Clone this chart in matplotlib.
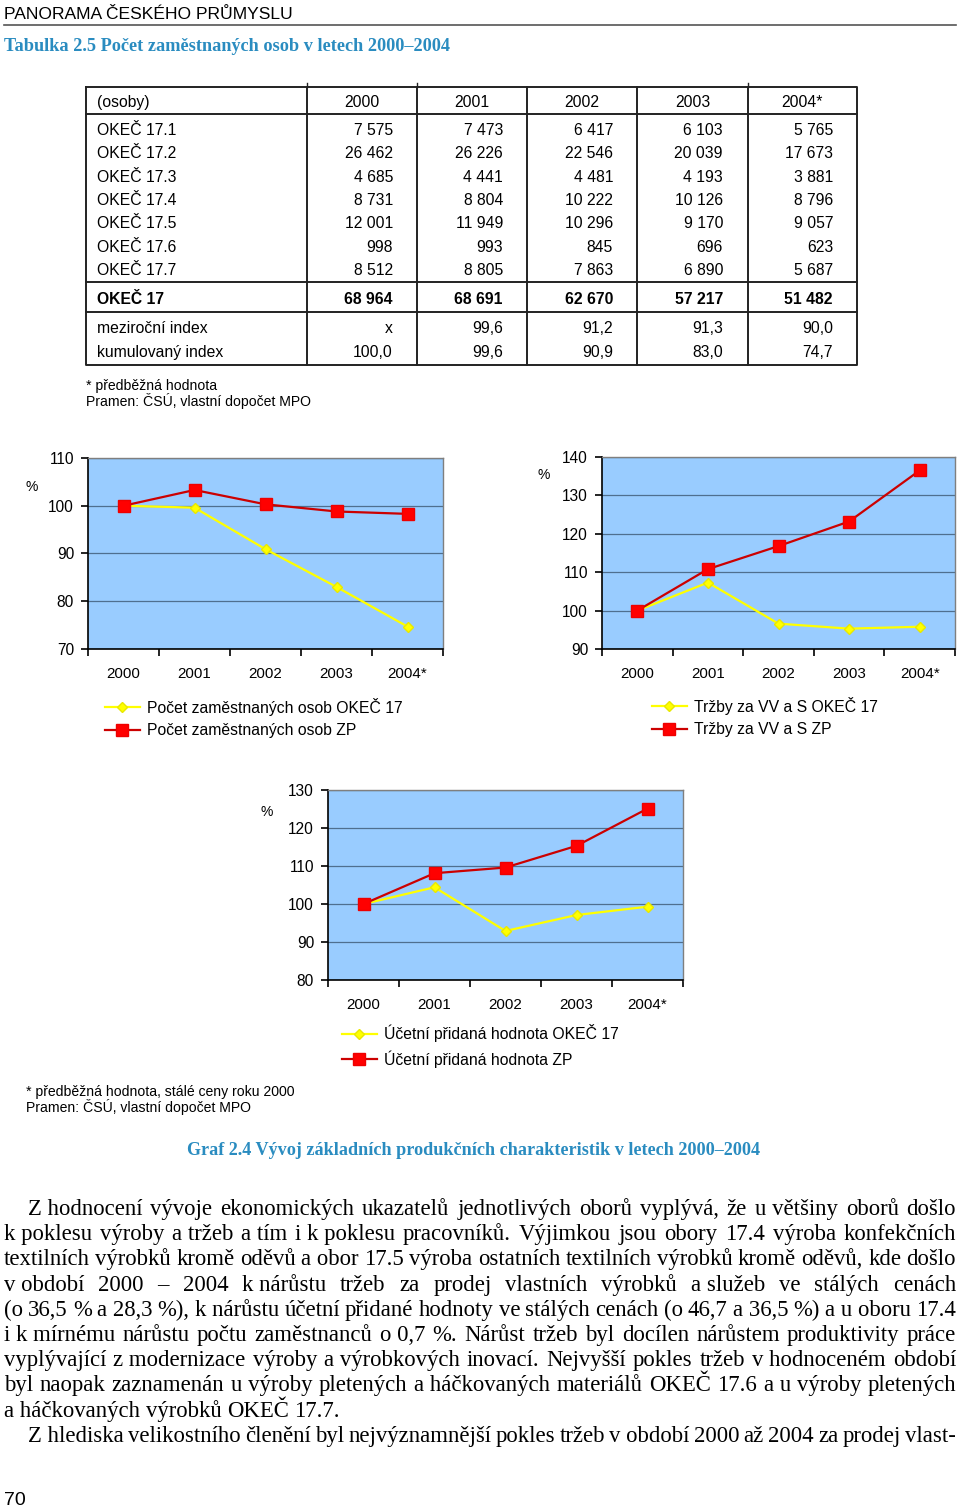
import numpy as np
import matplotlib
matplotlib.use('Agg')
import matplotlib.pyplot as plt

plt.rcParams['font.family'] = ['Liberation Sans', 'DejaVu Sans']
SERIF = ['Liberation Serif', 'DejaVu Serif']

# table data (osoby)
years = ['2000', '2001', '2002', '2003', '2004*']
row_labels = ['OKEČ 17.1', 'OKEČ 17.2', 'OKEČ 17.3', 'OKEČ 17.4',
              'OKEČ 17.5', 'OKEČ 17.6', 'OKEČ 17.7']
okec_171 = [7575, 7473, 6417, 6103, 5765]
okec_172 = [26462, 26226, 22546, 20039, 17673]
okec_173 = [4685, 4441, 4481, 4193, 3881]
okec_174 = [8731, 8804, 10222, 10126, 8796]
okec_175 = [12001, 11949, 10296, 9170, 9057]
okec_176 = [998, 993, 845, 696, 623]
okec_177 = [8512, 8805, 7863, 6890, 5687]
okec_17 = [68964, 68691, 62670, 57217, 51482]
yoy_index = [None, 99.6, 91.2, 91.3, 90.0]
cum_index = [100.0, 99.6, 90.9, 83.0, 74.7]

# chart data (%)
emp_okec = cum_index
emp_zp = [100, 103.3, 100.3, 98.8, 98.3]
sales_okec = [100, 107.3, 96.6, 95.3, 95.8]
sales_zp = [100, 110.8, 116.8, 123.2, 136.5]
gva_okec = [100, 104.4, 92.9, 97.1, 99.3]
gva_zp = [100, 108.1, 109.6, 115.3, 125.1]

W, H = 960, 1508
fig = plt.figure(figsize=(W / 100, H / 100), dpi=100)
fig.patch.set_facecolor('white')

bg = fig.add_axes([0, 0, 1, 1])
bg.set_xlim(0, W)
bg.set_ylim(H, 0)
bg.axis('off')


def px_rect(l, t, r, b):
    return [l / W, 1 - b / H, (r - l) / W, (b - t) / H]


def fmt_int(v):
    return f'{v:,}'.replace(',', ' ')


def fmt_dec(v):
    return 'x' if v is None else f'{v:.1f}'.replace('.', ',')


blue = '#2a8cc0'

# page header
bg.text(4, 19, 'PANORAMA ČESKÉHO PRŮMYSLU', fontsize=12.6, va='baseline')
bg.plot([4, 956], [25, 25], color='#555555', lw=1.2)
bg.text(4, 51, 'Tabulka 2.5 Počet zaměstnaných osob v letech 2000–2004',
        fontsize=13.15, family=SERIF, weight='bold', color=blue, va='baseline')

# table
tl, tr, tt, tb = 86, 857, 87, 365
col_sep = [307, 417, 527, 637, 748]
val_right = [393, 503, 613, 723, 833]
lw_t = 1.4
bg.plot([tl, tr, tr, tl, tl], [tt, tt, tb, tb, tt], color='#222222', lw=lw_t)
for xs in col_sep:
    bg.plot([xs, xs], [tt, tb], color='#222222', lw=lw_t)
for xs in [307, 417, 748]:
    bg.plot([xs, xs], [83, tt], color='#222222', lw=1.0)
for ys in [114, 282, 312]:
    bg.plot([tl, tr], [ys, ys], color='#222222', lw=lw_t)

fs_t = 11.3
bg.text(97, 107, '(osoby)', fontsize=fs_t, va='baseline')
for i, y in enumerate(years):
    bg.text((col_sep[i] + ([*col_sep, tr])[i + 1]) / 2, 107, y, fontsize=fs_t,
            ha='center', va='baseline')

rows = [okec_171, okec_172, okec_173, okec_174, okec_175, okec_176, okec_177]
for r, (lab, vals) in enumerate(zip(row_labels, rows)):
    yb = 135 + 23.3 * r
    bg.text(97, yb, lab, fontsize=fs_t, va='baseline')
    for c, v in enumerate(vals):
        bg.text(val_right[c], yb, fmt_int(v), fontsize=fs_t, ha='right', va='baseline')

bg.text(97, 304, 'OKEČ 17', fontsize=fs_t, weight='bold', va='baseline')
for c, v in enumerate(okec_17):
    bg.text(val_right[c], 304, fmt_int(v), fontsize=fs_t, weight='bold',
            ha='right', va='baseline')

bg.text(97, 333, 'meziroční index', fontsize=fs_t, va='baseline')
bg.text(97, 357, 'kumulovaný index', fontsize=fs_t, va='baseline')
for c in range(5):
    bg.text(val_right[c], 333, fmt_dec(yoy_index[c]), fontsize=fs_t, ha='right', va='baseline')
    bg.text(val_right[c], 357, fmt_dec(cum_index[c]), fontsize=fs_t, ha='right', va='baseline')

bg.text(86, 390, '* předběžná hodnota', fontsize=10.1, va='baseline')
bg.text(86, 406, 'Pramen: ČSÚ, vlastní dopočet MPO', fontsize=10.1, va='baseline')


# charts
def draw_chart(rect, okec, zp, ylim, lab_okec, lab_zp, pct_xy, leg_xy):
    ax = fig.add_axes(px_rect(*rect))
    ax.set_facecolor('#99ccff')
    x = np.arange(len(years))
    ax.plot(x, okec, color='#ffff00', lw=1.6, marker='D', ms=5.5,
            mfc='#ffff00', mec='#e8e800', label=lab_okec, zorder=3, clip_on=False)
    ax.plot(x, zp, color='#cc0000', lw=1.6, marker='s', ms=8.5,
            mfc='#ff0000', mec='#ee0000', label=lab_zp, zorder=4, clip_on=False)
    ax.set_xlim(-0.5, 4.5)
    ax.set_ylim(*ylim)
    ax.set_yticks(np.arange(ylim[0], ylim[1] + 1, 10))
    ax.grid(axis='y', color='#4f6f8f', lw=0.9)
    ax.set_axisbelow(True)
    ax.set_xticks(x)
    ax.set_xticklabels(years)
    ax.set_xticks(np.arange(-0.5, 5, 1), minor=True)
    ax.tick_params(axis='x', which='major', length=0, pad=13, labelsize=10.9)
    ax.tick_params(axis='x', which='minor', length=5, width=1.2, direction='out')
    ax.tick_params(axis='y', length=5, width=1.2, pad=5, labelsize=11.2)
    for s in ['left', 'bottom']:
        ax.spines[s].set_color('black')
        ax.spines[s].set_linewidth(1.2)
    for s in ['top', 'right']:
        ax.spines[s].set_color('#7f7f7f')
        ax.spines[s].set_linewidth(1.0)
    bg.text(pct_xy[0], pct_xy[1], '%', fontsize=10, ha='center', va='center')
    ax.legend(loc='center left', bbox_to_anchor=(leg_xy[0] / W, 1 - leg_xy[1] / H),
              bbox_transform=fig.transFigure, frameon=False, fontsize=11.3,
              borderpad=0, borderaxespad=0, handlelength=2.2, handletextpad=0.5,
              labelspacing=0.5, numpoints=1)
    return ax


draw_chart((88, 458, 443, 649), emp_okec, emp_zp, (70, 110),
           'Počet zaměstnaných osob OKEČ 17', 'Počet zaměstnaných osob ZP',
           (32, 487), (105, 718))
draw_chart((602, 457, 955, 649), sales_okec, sales_zp, (90, 140),
           'Tržby za VV a S OKEČ 17', 'Tržby za VV a S ZP',
           (544, 475), (652, 717))
draw_chart((328, 790, 683, 980), gva_okec, gva_zp, (80, 130),
           'Účetní přidaná hodnota OKEČ 17', 'Účetní přidaná hodnota ZP',
           (267, 812), (342, 1046))

bg.text(26, 1096, '* předběžná hodnota, stálé ceny roku 2000', fontsize=10.1, va='baseline')
bg.text(26, 1112, 'Pramen: ČSÚ, vlastní dopočet MPO', fontsize=10.1, va='baseline')
bg.text(474, 1155, 'Graf 2.4 Vývoj základních produkčních charakteristik v letech 2000–2004',
        fontsize=13.1, family=SERIF, weight='bold', color=blue, ha='center', va='baseline')

# body text, justified
para = [
    ('Z hodnocení vývoje ekonomických ukazatelů jednotlivých oborů vyplývá, že u většiny oborů došlo', 28, True),
    ('k poklesu výroby a tržeb a tím i k poklesu pracovníků. Výjimkou jsou obory 17.4 výroba konfekčních', 4, True),
    ('textilních výrobků kromě oděvů a obor 17.5 výroba ostatních textilních výrobků kromě oděvů, kde došlo', 4, True),
    ('v období 2000 – 2004 k nárůstu tržeb za prodej vlastních výrobků a služeb ve stálých cenách', 4, True),
    ('(o 36,5 % a 28,3 %), k nárůstu účetní přidané hodnoty ve stálých cenách (o 46,7 a 36,5 %) a u oboru 17.4', 4, True),
    ('i k mírnému nárůstu počtu zaměstnanců o 0,7 %. Nárůst tržeb byl docílen nárůstem produktivity práce', 4, True),
    ('vyplývající z modernizace výroby a výrobkových inovací. Nejvyšší pokles tržeb v hodnoceném období', 4, True),
    ('byl naopak zaznamenán u výroby pletených a háčkovaných materiálů OKEČ 17.6 a u výroby pletených', 4, True),
    ('a háčkovaných výrobků OKEČ 17.7.', 4, False),
    ('Z hlediska velikostního členění byl nejvýznamnější pokles tržeb v období 2000 až 2004 za prodej vlast-', 28, True),
]

renderer = fig.canvas.get_renderer()
for i, (line, x0, just) in enumerate(para):
    yb = 1215 + 25.2 * i
    words = []
    for tok in line.split(' '):
        if words and len(words[-1].split(' ')[-1]) == 1 and words[-1].split(' ')[-1].isalpha():
            words[-1] += ' ' + tok
        else:
            words.append(tok)
    texts = [bg.text(0, yb, w, fontsize=16.4, family=SERIF, va='baseline') for w in words]
    widths = [t.get_window_extent(renderer).width for t in texts]
    gap = (956 - x0 - sum(widths)) / (len(words) - 1) if just else 5.6
    xx = x0
    for t, w in zip(texts, widths):
        t.set_x(xx)
        xx += w + gap

bg.text(4, 1505, '70', fontsize=14, va='baseline')

fig.savefig('out.png', dpi=100)
